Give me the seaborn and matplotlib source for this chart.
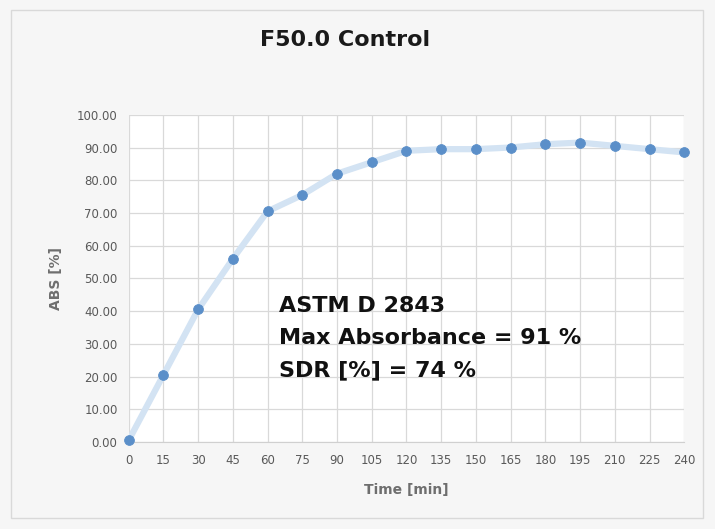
import matplotlib
matplotlib.use("Agg")
import matplotlib.pyplot as plt
import pandas as pd
import seaborn as sns
from matplotlib.patches import Rectangle

# data
time_min = [0, 15, 30, 45, 60, 75, 90, 105, 120, 135, 150, 165, 180, 195, 210, 225, 240]
abs_pct = [0.5, 20.5, 40.5, 56.0, 70.5, 75.5, 82.0, 85.5, 89.0, 89.5, 89.5, 90.0, 91.0, 91.5, 90.5, 89.5, 88.5]
y_ticks = [0, 10, 20, 30, 40, 50, 60, 70, 80, 90, 100]
notes = ["ASTM D 2843", "Max Absorbance = 91 %", "SDR [%] = 74 %"]

df = pd.DataFrame({"Time [min]": time_min, "ABS [%]": abs_pct})

sns.set_style("white")
plt.rcParams["font.family"] = ["DejaVu Sans"]

fig = plt.figure(figsize=(7.15, 5.29), dpi=100, facecolor="#f6f6f6")
fig.patches.append(Rectangle((0.015, 0.02), 0.968, 0.962, transform=fig.transFigure,
                             facecolor="none", edgecolor="#d9d9d9", lw=1))
ax = fig.add_axes([0.180, 0.1645, 0.777, 0.6185])
ax.set_facecolor("white")

# pale thick line, then markers on top
sns.lineplot(data=df, x="Time [min]", y="ABS [%]", ax=ax, color="#d3e3f3", lw=4.5, zorder=2)
sns.scatterplot(data=df, x="Time [min]", y="ABS [%]", ax=ax, color="#5b8fc9", s=50,
                edgecolor="#5b8fc9", zorder=3, clip_on=False)

ax.set_xlim(0, 240)
ax.set_ylim(0, 100)
ax.set_xticks(time_min)
ax.set_yticks(y_ticks)
ax.set_yticklabels([f"{v:.2f}" for v in y_ticks])
ax.grid(True, color="#d9d9d9", lw=0.9)
for s in ["top", "right", "left"]:
    ax.spines[s].set_visible(False)
ax.spines["bottom"].set_color("#d0d0d0")
ax.tick_params(axis="both", length=0, labelsize=8.5, labelcolor="#595959")
ax.tick_params(axis="y", pad=8)
ax.tick_params(axis="x", pad=9)

ax.set_xlabel("Time [min]", fontsize=10, color="#6e6e6e", fontweight="bold", labelpad=11)
ax.set_ylabel("ABS [%]", fontsize=10, color="#6e6e6e", fontweight="bold", labelpad=10)

fig.text(0.4825, 0.924, "F50.0 Control", ha="center", va="center", fontsize=16,
         fontweight="bold", color="#1a1a1a")

for i, t in enumerate(notes):
    ax.text(65, 41.6 - i * 9.9, t, fontsize=16, fontweight="bold", color="#111111",
            va="center", ha="left", zorder=4)

fig.savefig("out.png", dpi=100, facecolor=fig.get_facecolor())
